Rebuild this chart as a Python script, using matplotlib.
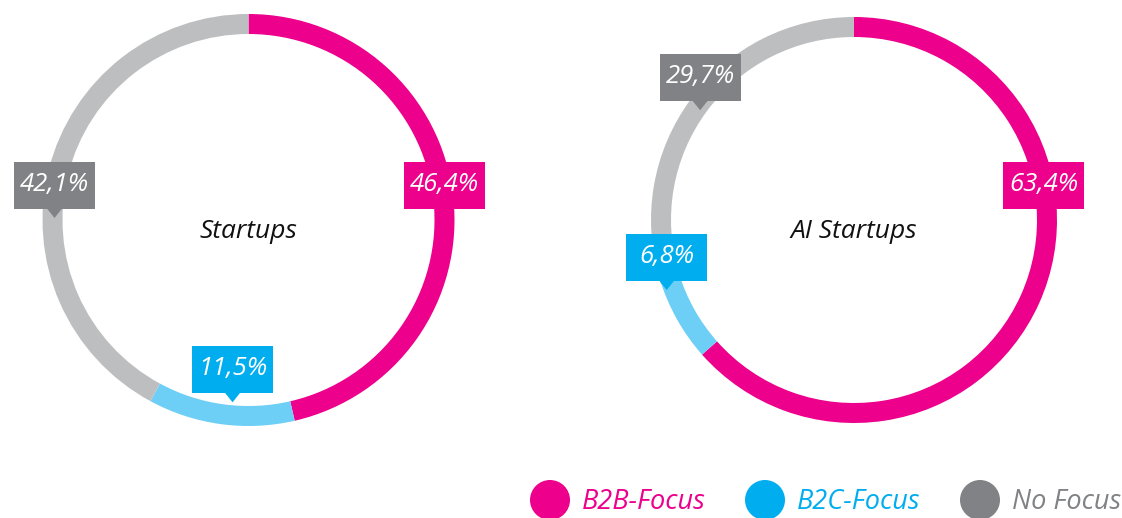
import numpy as np
import matplotlib.pyplot as plt
from matplotlib.patches import Rectangle, Polygon, Circle

# Daten
categories = ['B2B-Focus', 'B2C-Focus', 'No Focus']
startups = [46.4, 11.5, 42.1]
ai_startups = [63.4, 6.8, 29.7]
chart_titles = ['Startups', 'AI Startups']
value_labels = [['46,4%', '11,5%', '42,1%'], ['63,4%', '6,8%', '29,7%']]

ring_colors = ['#EC008C', '#6DCFF6', '#BCBEC0']
box_colors = ['#EC008C', '#00AEEF', '#808285']

FONT = ['Open Sans', 'DejaVu Sans']
W, H = 1122, 518

fig = plt.figure(figsize=(W / 100, H / 100), dpi=100)
ax = fig.add_axes([0, 0, 1, 1])

# Layout: Mittelpunkt, Radius, Ringbreite, Labelposition (Winkel im Uhrzeigersinn ab 12 Uhr, Radius)
centers = [(248.5, H - 220), (854, H - 220)]
radii = [206, 203]
ring_w = 20
label_pos = [[(89.4, 196), (185, 183), (270.6, 194)],
             [(89.4, 190), (249.5, 200), (305.5, 189)]]
pointer = [[False, True, True], [False, True, True]]


def label_box(x, y, text, color, with_pointer):
    bw, bh, ph = 81, 47, 9
    by = y + ph + bh / 2
    ax.add_patch(Rectangle((x - bw / 2, by - bh / 2), bw, bh, color=color, zorder=5, lw=0))
    if with_pointer:
        ax.add_patch(Polygon([(x - 8, by - bh / 2 + 1), (x + 8, by - bh / 2 + 1), (x, y)],
                             closed=True, color=color, zorder=5, lw=0))
    ax.text(x, by + 1, text, color='white', fontsize=18.5, style='italic', family=FONT,
            ha='center', va='center', zorder=6)


for i, vals in enumerate([startups, ai_startups]):
    cx, cy = centers[i]
    r = radii[i]
    ax.pie(vals, colors=ring_colors, startangle=90, counterclock=False,
           center=(cx, cy), radius=r, frame=True,
           wedgeprops=dict(width=ring_w, linewidth=0))
    ax.text(cx, cy - 12, chart_titles[i], fontsize=19, style='italic', family=FONT,
            ha='center', va='center', color='#111111')
    for j, (ang, rr) in enumerate(label_pos[i]):
        a = np.deg2rad(ang)
        tx = cx + rr * np.sin(a)
        ty = cy + rr * np.cos(a)
        label_box(tx, ty, value_labels[i][j], box_colors[j], pointer[i][j])

# Legende
leg_x = [550, 765, 980]
leg_y = H - 500
for k, name in enumerate(categories):
    ax.add_patch(Circle((leg_x[k], leg_y), 20, color=box_colors[k], lw=0))
    ax.text(leg_x[k] + 32, leg_y - 2, name, color=box_colors[k], fontsize=19.5,
            style='italic', family=FONT, ha='left', va='center')

ax.set_xlim(0, W)
ax.set_ylim(0, H)
ax.set_aspect('equal')
ax.axis('off')

plt.savefig('out.png', dpi=100)
